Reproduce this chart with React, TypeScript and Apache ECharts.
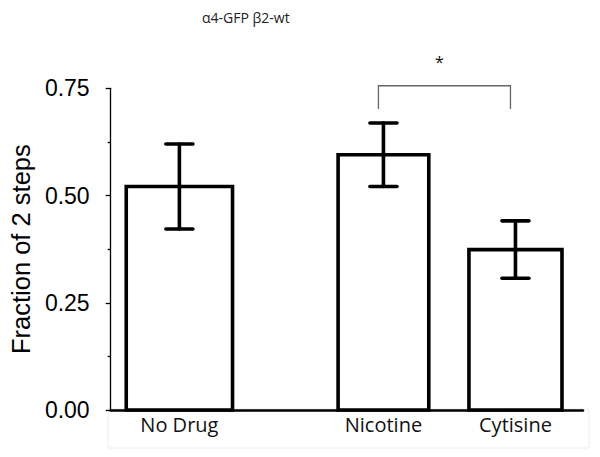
import React, { useEffect, useRef } from "react";
import * as echarts from "echarts";

const title = "α4-GFP β2-wt";
const yAxisName = "Fraction of 2 steps";
const categories = ["No Drug", "Nicotine", "Cytisine"];
const means = [0.521, 0.595, 0.374];
const errors = [0.099, 0.074, 0.067];
const yTicks = [0, 0.25, 0.5, 0.75];
const significance = { from: 1, to: 2, label: "*" };

// layout (x axis in layout units 0..100)
const slotCenters = [14.55, 57.75, 85.7];
const slotWidths = [22.5, 19.2, 19.7];

export default function App() {
  const ref = useRef<HTMLDivElement>(null);
  useEffect(() => {
    if (!ref.current) return;
    const chart = echarts.init(ref.current, null, { renderer: "svg" });
    const barData = categories.map((c, i) => [slotCenters[i], means[i], errors[i], slotWidths[i], i]);
    const option: any = {
      animation: false,
      backgroundColor: "#ffffff",
      title: {
        text: title,
        left: 197,
        top: 5,
        textStyle: { fontFamily: "Open Sans", fontSize: 14, fontWeight: "normal", color: "#222" },
      },
      grid: { left: 110, right: 17, top: 88.3, bottom: 47 },
      xAxis: {
        type: "value",
        min: 0,
        max: 100,
        axisLine: { show: true, onZero: false, lineStyle: { color: "#000", width: 2.5 } },
        axisTick: { show: false },
        axisLabel: { show: false },
        splitLine: { show: false },
      },
      yAxis: {
        type: "value",
        min: yTicks[0],
        max: yTicks[yTicks.length - 1],
        interval: 0.25,
        name: yAxisName,
        nameLocation: "middle",
        nameGap: 75,
        nameTextStyle: { fontFamily: "Liberation Sans", fontSize: 25.5, color: "#000" },
        axisLine: { show: true, lineStyle: { color: "#000", width: 1.3 } },
        axisTick: { show: true, length: 5, lineStyle: { color: "#000", width: 1.3 } },
        minorTick: { show: true, splitNumber: 2, length: 3, lineStyle: { color: "#000", width: 1.3 } },
        axisLabel: {
          fontFamily: "Liberation Sans",
          fontSize: 23,
          color: "#000",
          margin: 21,
          formatter: (v: number) => v.toFixed(2),
        },
        splitLine: { show: false },
      },
      graphic: [
        {
          type: "rect",
          shape: { x: 108, y: 409, width: 481, height: 39 },
          style: { fill: "none", stroke: "#ececec", lineWidth: 1 },
          z: -1,
        },
      ],
      series: [
        {
          type: "custom",
          data: barData,
          clip: false,
          renderItem: (params: any, api: any) => {
            const x = api.value(0);
            const m = api.value(1);
            const e = api.value(2);
            const w = api.value(3);
            const idx = api.value(4);
            const p0 = api.coord([x - w / 2, 0]);
            const p1 = api.coord([x + w / 2, m]);
            const c = api.coord([x, m]);
            const top = api.coord([x, m + e]);
            const bot = api.coord([x, m - e]);
            const cap = 13.5;
            const lineStyle = { stroke: "#000", lineWidth: 3.6, lineCap: "round" };
            return {
              type: "group",
              children: [
                {
                  type: "rect",
                  shape: { x: p0[0], y: p1[1], width: p1[0] - p0[0], height: p0[1] - p1[1] },
                  style: { fill: "#fff", stroke: "#000", lineWidth: 3.6, lineJoin: "miter" },
                },
                { type: "line", shape: { x1: c[0], y1: top[1], x2: c[0], y2: bot[1] }, style: lineStyle },
                { type: "line", shape: { x1: c[0] - cap, y1: top[1], x2: c[0] + cap, y2: top[1] }, style: lineStyle },
                { type: "line", shape: { x1: c[0] - cap, y1: bot[1], x2: c[0] + cap, y2: bot[1] }, style: lineStyle },
                {
                  type: "text",
                  style: {
                    text: categories[idx],
                    x: c[0],
                    y: p0[1] + 14,
                    align: "center",
                    verticalAlign: "middle",
                    fontFamily: "Open Sans",
                    fontSize: 20,
                    fill: "#111",
                  },
                },
              ],
            };
          },
        },
        {
          type: "custom",
          data: [[slotCenters[significance.from], slotCenters[significance.to], 0.756, 0.702]],
          clip: false,
          renderItem: (params: any, api: any) => {
            const a = api.coord([api.value(0), api.value(2)]);
            const b = api.coord([api.value(1), api.value(3)]);
            const l = a[0] - 5;
            const r = b[0] - 5;
            const st = { stroke: "#666", lineWidth: 1.3, fill: "none" };
            const star = api.coord([api.value(0), 0.812]);
            return {
              type: "group",
              children: [
                {
                  type: "polyline",
                  shape: { points: [[l, b[1]], [l, a[1]], [r, a[1]], [r, b[1]]] },
                  style: st,
                },
                {
                  type: "text",
                  style: {
                    text: significance.label,
                    x: (l + r) / 2 - 5,
                    y: star[1],
                    align: "center",
                    verticalAlign: "middle",
                    fontFamily: "Open Sans",
                    fontSize: 16,
                    fill: "#111",
                  },
                },
              ],
            };
          },
        },
      ],
    };
    chart.setOption(option);
    return () => chart.dispose();
  }, []);
  return <div ref={ref} style={{ position: "absolute", left: 0, top: 0, width: 600, height: 457 }} />;
}
